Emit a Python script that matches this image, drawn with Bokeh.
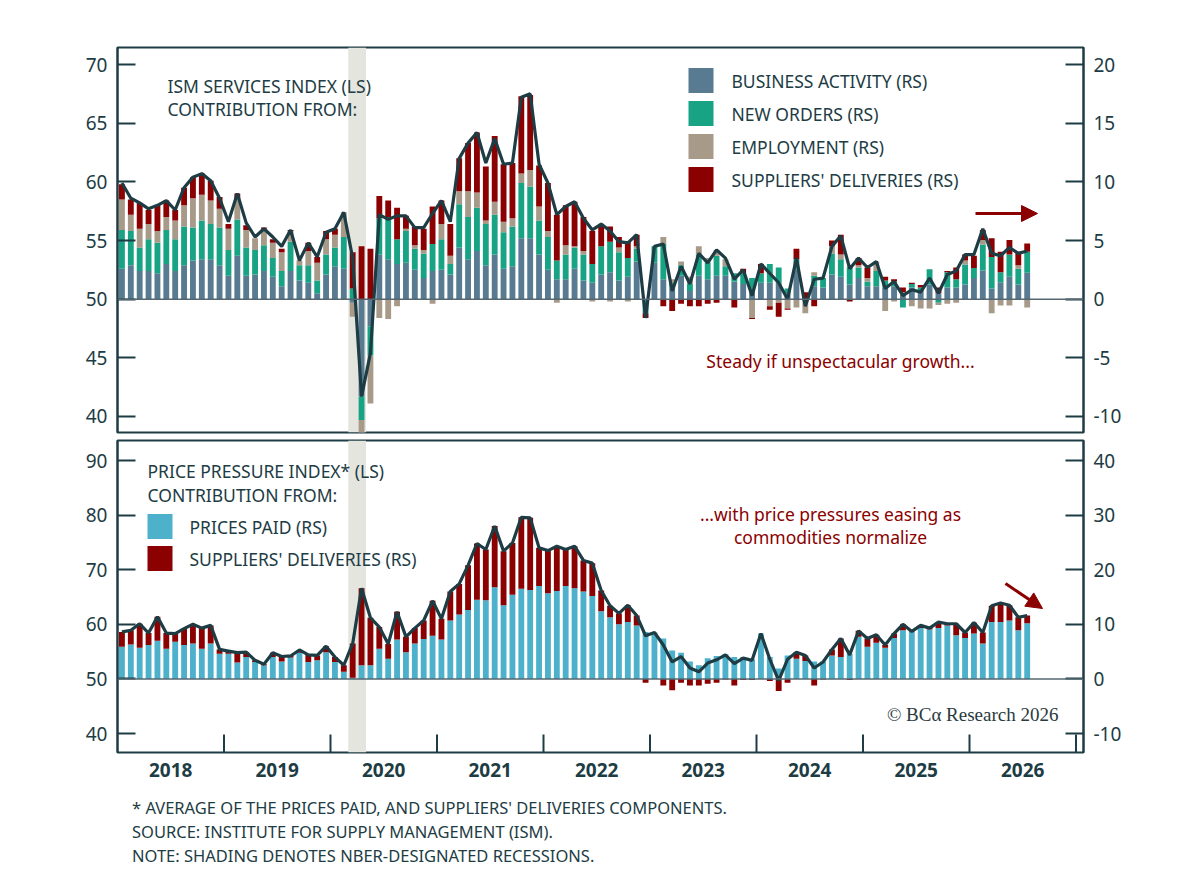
import numpy as np
from bokeh.plotting import figure
from bokeh.models import (Range1d, LinearAxis, FixedTicker, BoxAnnotation, Label, Arrow,
                          NormalHead, Span, Div)
from bokeh.layouts import column
from bokeh.embed import file_html
from bokeh.resources import INLINE

# ---------------- data ----------------
start_year = 2018
ism_index = [59.9,58.6,58.2,57.7,58.0,58.4,57.6,59.5,60.4,60.7,60.1,58.6,
             56.6,59.0,56.5,55.3,56.0,55.3,54.5,55.9,53.3,54.8,53.6,55.7,
             56.0,57.4,53.5,41.7,45.4,57.2,56.8,57.1,57.1,56.1,56.1,57.3,
             58.4,56.6,62.0,63.3,64.2,61.6,63.7,61.5,61.6,67.2,67.5,61.5,
             59.9,57.2,57.9,58.3,56.9,55.9,56.4,55.8,54.9,54.8,55.5,48.4,
             54.5,54.7,50.7,52.8,51.3,53.9,53.1,54.2,53.5,51.7,52.5,50.3,
             53.0,52.2,51.4,50.0,53.5,49.4,51.7,51.8,54.5,55.4,52.6,53.5,
             52.7,53.2,50.9,51.5,50.3,50.8,50.6,51.8,50.5,52.1,52.4,53.8,
             53.8,56.0,53.9,53.7,54.4,53.9,54.1]
business_activity = [2.6,2.9,2.4,2.4,2.2,3.0,2.4,2.9,3.3,3.4,3.4,2.9,
                     2.0,3.7,2.0,2.1,2.4,1.9,1.1,2.4,1.6,1.4,0.5,2.1,
                     2.8,2.6,-0.3,-8.3,-2.3,3.8,3.4,3.0,3.1,2.5,1.8,2.4,
                     2.5,2.1,4.4,3.4,4.1,2.9,3.8,2.6,2.8,5.2,5.2,3.8,
                     2.5,1.7,1.7,2.6,1.6,1.4,2.1,2.3,1.6,1.9,3.2,-0.1,
                     3.1,1.7,1.0,2.0,0.7,2.0,1.7,2.0,2.0,1.5,1.3,0.7,
                     1.4,1.4,1.4,0.5,2.5,-0.2,1.1,1.0,2.1,1.9,1.25,1.8,
                     1.1,1.1,1.0,1.1,0.4,1.0,0.7,1.25,0.5,1.0,1.0,1.25,
                     1.8,2.45,0.9,1.45,1.9,1.25,2.25]
new_orders = [3.3,2.9,2.0,2.7,2.6,2.9,2.7,3.3,2.8,3.3,3.0,3.2,
              2.2,3.1,2.4,2.1,2.2,1.6,1.3,2.5,1.3,1.5,1.1,1.7,
              1.6,2.7,0.9,-2.0,-2.5,3.1,3.6,2.1,2.7,1.8,2.1,2.3,
              2.6,0.9,3.7,3.6,3.7,3.5,3.4,3.1,3.4,4.7,4.4,2.9,
              2.8,1.6,2.1,1.8,2.2,1.6,2.4,2.6,2.4,1.6,1.1,-1.1,
              1.4,3.0,0.4,0.9,0.6,1.8,1.4,1.7,0.8,0.7,0.9,1.1,
              0.8,1.6,1.3,0.4,0.9,0.0,0.9,0.8,1.8,1.5,1.4,0.9,
              0.4,1.3,0.6,0.4,-0.7,0.3,0.3,1.3,-0.3,1.3,0.7,1.7,
              0.85,2.2,2.7,0.85,1.9,1.35,1.8]
employment = [2.6,1.4,1.6,1.3,1.0,1.1,1.6,1.8,2.5,2.2,2.0,1.6,
              1.8,1.8,1.5,1.0,1.4,1.3,1.6,0.9,0.4,1.2,1.5,1.3,
              1.1,2.1,-1.2,-2.5,-4.1,-1.6,-1.7,-0.6,0.2,0.3,0.3,-0.4,
              1.3,0.7,1.1,2.2,1.3,0.3,1.1,0.9,0.7,0.8,1.4,1.2,
              0.5,-0.3,0.8,0.1,0.3,-0.2,0.0,-0.2,0.4,-0.2,0.2,0.0,
              0.0,0.6,0.3,0.3,0.6,0.7,0.4,0.5,0.6,0.0,0.0,-1.6,
              0.0,-0.6,-0.3,-0.8,-0.7,-1.0,0.3,0.0,0.6,0.4,0.15,0.2,
              0.3,0.8,-1.0,-0.2,0.2,-0.6,-0.8,-0.8,-0.2,-0.4,-0.3,0.35,
              0.0,0.4,-1.2,-0.55,-0.55,0.3,-0.7]
suppliers_top = [1.3,1.3,2.2,1.2,2.2,1.4,0.9,1.5,1.8,1.8,1.7,1.0,
                 0.4,0.4,0.4,0.0,0.1,0.3,0.3,0.1,0.0,0.7,0.5,0.7,
                 0.5,0.0,3.1,4.5,4.3,1.9,1.4,2.7,1.1,1.6,1.8,3.2,
                 2.0,2.7,2.8,4.1,5.1,4.6,5.6,4.9,4.7,6.6,6.4,3.5,
                 4.1,3.9,3.4,3.8,2.9,2.8,1.8,1.3,0.9,1.4,1.0,-0.4,
                 0.0,-0.6,-1.0,-0.4,-0.6,-0.6,-0.4,-0.3,0.0,-0.7,0.4,-0.1,
                 0.8,-0.3,-1.2,-0.1,0.9,0.6,-0.6,0.0,0.5,1.7,-0.2,0.6,
                 0.9,0.0,0.3,0.2,0.4,0.1,0.2,0.0,0.5,0.1,1.0,0.5,
                 1.05,0.85,1.6,1.75,1.25,1.15,0.7]
prices_paid = [5.9,6.3,5.7,6.2,7.0,5.5,6.8,6.2,6.5,5.5,6.5,4.6,
               4.6,3.0,4.0,3.1,2.5,4.0,3.2,3.9,4.8,3.1,3.4,4.9,
               3.1,1.3,0.2,2.5,2.5,5.5,3.7,7.2,4.9,6.5,7.3,7.9,
               7.2,10.7,11.8,12.6,14.5,14.4,16.8,13.5,15.4,16.5,16.3,17.0,
               15.7,16.1,17.0,16.6,16.0,15.2,12.4,11.3,10.0,10.4,9.8,8.6,
               8.5,7.4,5.2,4.8,3.2,2.5,3.8,4.2,4.5,4.0,4.0,3.6,
               8.3,4.0,1.9,4.3,3.7,3.3,3.2,3.2,4.3,4.0,4.6,7.7,
               5.9,6.6,5.7,7.5,8.9,8.6,9.3,9.1,9.3,9.8,8.0,7.5,
               8.3,6.5,10.4,10.4,10.7,8.9,10.2]
suppliers_bottom = [2.7,2.6,4.4,2.2,4.4,2.9,1.5,3.0,3.5,3.8,3.3,0.8,
                    0.5,1.8,0.9,0.3,0.2,0.8,0.9,0.3,0.5,1.3,0.9,1.1,
                    0.9,1.2,6.3,14.1,8.7,4.0,2.7,5.1,2.8,2.8,3.4,6.4,
                    3.8,5.3,5.6,8.2,10.3,9.3,11.2,9.9,9.5,13.1,13.2,7.0,
                    7.8,8.2,6.7,7.7,5.7,6.0,3.8,2.1,2.0,3.1,1.8,-0.7,
                    0.0,-1.2,-2.1,-0.7,-1.2,-1.2,-0.9,-0.7,-0.1,-1.2,-0.2,-0.2,
                    0.0,-0.4,-2.2,-0.7,1.2,1.0,-1.2,-0.1,1.1,3.4,-0.2,1.1,
                    1.5,1.5,0.5,0.8,1.1,0.1,0.5,0.2,1.1,0.3,2.1,1.0,
                    2.0,2.0,3.0,3.5,2.8,2.4,1.4]
year_labels = ["2018","2019","2020","2021","2022","2023","2024","2025","2026"]
recession = (2020 + 2/12, 2020 + 4/12)

# ---------------- style ----------------
DARK = "#1d3c44"
C_BA, C_NO, C_EMP, C_SD, C_PP = "#587b91", "#17a384", "#a89a89", "#8b0000", "#4eb1cb"
FONT = "Noto Sans"
n = len(ism_index)
xs = start_year + (np.arange(n) + 0.5) / 12.0
W = 0.66 / 12
L_PX, R_PX = 117, 1083
X0, X1 = 2018.0, 2018 + (R_PX - L_PX) / 106.5
FIG_W = 1184

def make_fig(height, ylo, yhi, btop, bbot):
    p = figure(width=FIG_W, height=height, x_range=Range1d(X0, X1), y_range=Range1d(ylo, yhi),
               output_backend="svg", toolbar_location=None, x_axis_location=None,
               y_axis_location=None, min_border_left=L_PX, min_border_right=FIG_W - R_PX,
               min_border_top=btop, min_border_bottom=bbot)
    p.extra_y_ranges = {"rs": Range1d(ylo - 50, yhi - 50)}
    p.grid.visible = False
    p.outline_line_color = DARK
    p.outline_line_width = 2
    p.background_fill_color = "white"
    p.border_fill_color = "white"
    return p

def style_axis(ax, ticks):
    ax.ticker = FixedTicker(ticks=ticks)
    ax.major_label_overrides = {t: str(t) for t in ticks}
    ax.major_tick_in = 18
    ax.major_tick_out = 0
    ax.minor_tick_line_color = None
    ax.major_tick_line_color = DARK
    ax.major_tick_line_width = 2
    ax.axis_line_color = DARK
    ax.axis_line_width = 2
    ax.major_label_text_font = FONT
    ax.major_label_text_font_size = "19px"
    ax.major_label_text_color = DARK
    ax.major_label_standoff = 10

def stack(p, comps, colors, base=50):
    pos = np.zeros(n); neg = np.zeros(n)
    for vals, col in zip(comps, colors):
        v = np.array(vals, dtype=float)
        b = np.where(v >= 0, pos, neg)
        t = b + v
        pos = np.where(v >= 0, t, pos)
        neg = np.where(v < 0, t, neg)
        p.vbar(x=xs, width=W, bottom=base + b, top=base + t, fill_color=col, line_color=None)

def px2data(p_ylo, p_yhi, T, B):
    def f(px, py):
        return (X0 + (px - L_PX) / (R_PX - L_PX) * (X1 - X0),
                p_yhi - (py - T) / (B - T) * (p_yhi - p_ylo))
    return f

def label(p, conv, px, py, text, size="18px", color=DARK, align="left", font=FONT):
    x, y = conv(px, py)
    p.add_layout(Label(x=x, y=y, text=text, text_font=font, text_font_size=size, text_color=color,
                       text_align=align, text_baseline="middle"))

def square(p, conv, px, py, col, s=25):
    x0, y0 = conv(px, py + s / 2); x1, y1 = conv(px + s, py - s / 2)
    p.add_layout(BoxAnnotation(left=x0, right=x1, bottom=y0, top=y1, fill_color=col,
                               fill_alpha=1, line_color=None))

# ---------------- top panel ----------------
T1, B1 = 47, 432
tlo, thi = 40 - 16 / 11.73, 70 + 17 / 11.73
top = make_fig(T1 + (B1 - T1) + 4, tlo, thi, T1, 4)
top.add_layout(BoxAnnotation(left=recession[0], right=recession[1], fill_color="#e5e5df",
                             fill_alpha=1, line_color=None, level="underlay"))
stack(top, [business_activity, new_orders, employment, suppliers_top], [C_BA, C_NO, C_EMP, C_SD])
top.add_layout(Span(location=50, dimension="width", line_color="#556770", line_width=1.5))
top.line(xs, ism_index, line_color=DARK, line_width=3.2)
la = LinearAxis(); style_axis(la, [40, 45, 50, 55, 60, 65, 70]); top.add_layout(la, "left")
ra = LinearAxis(y_range_name="rs"); style_axis(ra, [-10, -5, 0, 5, 10, 15, 20]); top.add_layout(ra, "right")
c1 = px2data(tlo, thi, T1, B1)
label(top, c1, 167, 85, "ISM SERVICES INDEX (LS)", "17.5px")
label(top, c1, 167, 108, "CONTRIBUTION FROM:", "17.5px")
for i, (txt, col) in enumerate([("BUSINESS ACTIVITY (RS)", C_BA), ("NEW ORDERS (RS)", C_NO),
                                ("EMPLOYMENT (RS)", C_EMP), ("SUPPLIERS' DELIVERIES (RS)", C_SD)]):
    yy = 80 + 33 * i
    square(top, c1, 688, yy, col)
    label(top, c1, 731, yy, txt, "17.5px")
label(top, c1, 840, 360, "Steady if unspectacular growth...", "17.5px", color=C_SD, align="center")
ax0, ay0 = c1(975, 213); ax1, ay1 = c1(1037, 213)
top.add_layout(Arrow(x_start=ax0, y_start=ay0, x_end=ax1, y_end=ay1, line_color=C_SD, line_width=3,
                     end=NormalHead(size=16, fill_color=C_SD, line_color=C_SD)))

# ---------------- bottom panel ----------------
T2, B2 = 440, 752
blo, bhi = 40 - 19 / 5.46, 90 + 20 / 5.46
bot = make_fig(4 + (B2 - T2) + 42, blo, bhi, 4, 42)
bot.add_layout(BoxAnnotation(left=recession[0], right=recession[1], fill_color="#e5e5df",
                             fill_alpha=1, line_color=None, level="underlay"))
stack(bot, [prices_paid, suppliers_bottom], [C_PP, C_SD])
pp_index = 50 + np.array(prices_paid) + np.array(suppliers_bottom)
bot.add_layout(Span(location=50, dimension="width", line_color="#556770", line_width=1.5))
bot.line(xs, pp_index, line_color=DARK, line_width=3.2)
la2 = LinearAxis(); style_axis(la2, [40, 50, 60, 70, 80, 90]); bot.add_layout(la2, "left")
ra2 = LinearAxis(y_range_name="rs"); style_axis(ra2, [-10, 0, 10, 20, 30, 40]); bot.add_layout(ra2, "right")
yr_bounds = [start_year + i for i in range(1, len(year_labels) + 1)]
bot.segment(x0=yr_bounds, x1=yr_bounds, y0=[blo] * len(yr_bounds), y1=[blo + 18 / 5.46] * len(yr_bounds),
            line_color=DARK, line_width=2)
xa = LinearAxis()
mids = [start_year + i + 0.5 for i in range(len(year_labels))]
xa.ticker = FixedTicker(ticks=mids)
xa.major_label_overrides = {m: s for m, s in zip(mids, year_labels)}
xa.major_tick_in = 0; xa.major_tick_out = 0
xa.axis_line_color = None; xa.minor_tick_line_color = None
xa.major_label_text_font = FONT; xa.major_label_text_font_size = "19px"
xa.major_label_text_color = DARK; xa.major_label_text_font_style = "bold"
xa.major_label_standoff = 10
bot.add_layout(xa, "below")
c2 = px2data(blo, bhi, T2, B2)
label(bot, c2, 147, 470, "PRICE PRESSURE INDEX* (LS)", "17.5px")
label(bot, c2, 147, 494, "CONTRIBUTION FROM:", "17.5px")
square(bot, c2, 147, 526, C_PP); label(bot, c2, 189, 526, "PRICES PAID (RS)", "17.5px")
square(bot, c2, 147, 558, C_SD); label(bot, c2, 189, 558, "SUPPLIERS' DELIVERIES (RS)", "17.5px")
label(bot, c2, 830, 513, "...with price pressures easing as", "17.5px", color=C_SD, align="center")
label(bot, c2, 830, 536, "commodities normalize", "17.5px", color=C_SD, align="center")
bx0, by0 = c2(1005, 583); bx1, by1 = c2(1042, 608)
bot.add_layout(Arrow(x_start=bx0, y_start=by0, x_end=bx1, y_end=by1, line_color=C_SD, line_width=3,
                     end=NormalHead(size=16, fill_color=C_SD, line_color=C_SD)))
label(bot, c2, 1058, 714, "© BCα Research 2026", "19px", color="#2a3a40", align="right",
      font="Liberation Serif")

notes = Div(text=("<div style='font-family:\"Noto Sans\";font-size:16.5px;color:%s;line-height:24px;"
                  "margin-left:127px;margin-top:-3px'>* AVERAGE OF THE PRICES PAID, AND SUPPLIERS' DELIVERIES COMPONENTS.<br>"
                  "SOURCE: INSTITUTE FOR SUPPLY MANAGEMENT (ISM).<br>"
                  "NOTE: SHADING DENOTES NBER-DESIGNATED RECESSIONS.</div>") % DARK,
            width=1100, height=80)

layout = column(top, bot, notes, spacing=0)
open("out.html", "w").write(file_html(layout, INLINE))
